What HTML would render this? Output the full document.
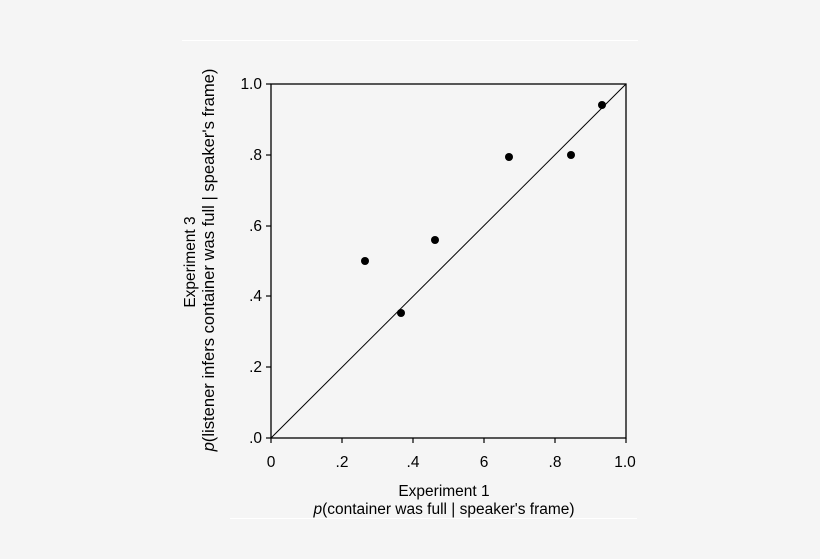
<!DOCTYPE html>
<html><head><style>
body{margin:0;background:#f5f5f5;}
svg{display:block;font-family:"Liberation Sans",sans-serif;}
</style></head><body>
<svg width="820" height="559" xmlns="http://www.w3.org/2000/svg">
<rect width="820" height="559" fill="#f5f5f5"/>
<line x1="182" y1="40.5" x2="638" y2="40.5" stroke="#fff" stroke-width="1"/>
<line x1="230" y1="518.5" x2="637" y2="518.5" stroke="#fff" stroke-width="1"/>
<rect x="271" y="84" width="355" height="354" fill="none" stroke="#000" stroke-width="1.3"/>
<line x1="271" y1="438" x2="626" y2="84" stroke="#000" stroke-width="1"/>
<g stroke="#000" stroke-width="1.2">
<line x1="271" y1="438" x2="271" y2="443"/><line x1="342" y1="438" x2="342" y2="443"/><line x1="413" y1="438" x2="413" y2="443"/><line x1="484" y1="438" x2="484" y2="443"/><line x1="555" y1="438" x2="555" y2="443"/><line x1="626" y1="438" x2="626" y2="443"/>
<line x1="266" y1="438" x2="271" y2="438"/><line x1="266" y1="367" x2="271" y2="367"/><line x1="266" y1="296" x2="271" y2="296"/><line x1="266" y1="226" x2="271" y2="226"/><line x1="266" y1="155" x2="271" y2="155"/><line x1="266" y1="84" x2="271" y2="84"/>
</g>
<g font-size="15.5" fill="#000" text-anchor="middle">
<text x="271" y="467">0</text><text x="342" y="467">.2</text><text x="413" y="467">.4</text><text x="484" y="467">6</text><text x="555" y="467">.8</text><text x="625" y="467">1.0</text>
</g>
<g font-size="15.5" fill="#000" text-anchor="end">
<text x="262" y="443">.0</text><text x="262" y="372">.2</text><text x="262" y="301">.4</text><text x="262" y="231">.6</text><text x="262" y="160">.8</text><text x="262" y="89">1.0</text>
</g>
<g fill="#000">
<circle cx="365" cy="261" r="4"/><circle cx="401" cy="313" r="4"/><circle cx="435" cy="240" r="4"/><circle cx="509" cy="157" r="4"/><circle cx="571" cy="155" r="4"/><circle cx="602" cy="105" r="4"/>
</g>
<g font-size="15.5" fill="#000" text-anchor="middle">
<text x="444" y="496">Experiment 1</text>
<text x="444" y="514"><tspan font-style="italic">p</tspan>(container was full | speaker's frame)</text>
<g transform="translate(195,262) rotate(-90)"><text x="0" y="0">Experiment 3</text></g>
<g transform="translate(214,260) rotate(-90)"><text x="0" y="0" font-size="16.6"><tspan font-style="italic">p</tspan>(listener infers container was full | speaker's frame)</text></g>
</g>
</svg>
</body></html>
